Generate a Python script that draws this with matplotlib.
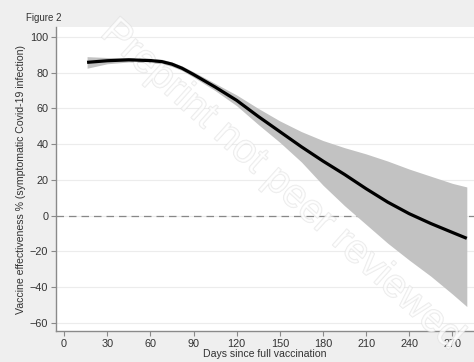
import matplotlib.pyplot as plt
import matplotlib.patheffects as pe

# values
days = [16, 30, 45, 60, 68, 75, 82, 90, 105, 120, 135, 150, 165, 180, 195, 210, 225, 240, 255, 270, 280]
ve = [85.8, 86.7, 87.2, 86.8, 86.2, 84.8, 82.5, 79.0, 72.0, 64.5, 55.5, 47.0, 38.5, 30.5, 23.0, 15.0, 7.5, 1.0, -4.5, -9.5, -12.8]
ve_upper = [89.0, 88.5, 88.5, 88.0, 87.5, 86.0, 83.8, 80.5, 74.0, 67.5, 60.0, 53.0, 47.0, 42.0, 38.0, 34.5, 30.5, 26.0, 22.0, 18.0, 16.0]
ve_lower = [82.5, 85.0, 86.0, 85.5, 85.0, 83.5, 81.2, 77.5, 70.0, 61.5, 51.0, 41.0, 30.0, 17.0, 5.5, -5.0, -15.5, -25.0, -34.0, -44.0, -51.0]
xticks = [0, 30, 60, 90, 120, 150, 180, 210, 240, 270]
yticks = [-60, -40, -20, 0, 20, 40, 60, 80, 100]

plt.rcParams['font.family'] = ['Liberation Sans', 'DejaVu Sans']

fig = plt.figure(figsize=(4.74, 3.62), dpi=100, facecolor='#efefef')
ax = fig.add_axes([56 / 474, 31 / 362, 1 - 56 / 474, 304 / 362])
ax.set_facecolor('white')

ax.fill_between(days, ve_lower, ve_upper, color='#c2c2c2', lw=0, zorder=2)
ax.plot(days, ve, color='black', lw=2.3, zorder=4, solid_capstyle='butt')
ax.axhline(0, color='#888888', lw=0.9, ls=(0, (6, 4)), zorder=1)

ax.set_xlim(-5.6, 285)
ax.set_ylim(-64.7, 105.6)
ax.set_xticks(xticks)
ax.set_yticks(yticks)
ax.grid(axis='y', color='#ececec', lw=0.8, zorder=0)
ax.set_axisbelow(True)
for s in ['top', 'right']:
    ax.spines[s].set_visible(False)
for s in ['left', 'bottom']:
    ax.spines[s].set_color('#8a8a8a')
    ax.spines[s].set_linewidth(1.0)
ax.tick_params(colors='#8a8a8a', labelcolor='#333333', labelsize=7.8, length=3.5, width=0.8, pad=2)

ax.set_xlabel('Days since full vaccination', fontsize=7.6, color='#333333', labelpad=0)
ax.set_ylabel('Vaccine effectiveness % (symptomatic Covid-19 infection)', fontsize=7.6,
              color='#333333', labelpad=3)

fig.text(26 / 474, 1 - 18 / 362, 'Figure 2', fontsize=7, color='#333333', va='center')

# watermark, kept under the fitted line
ax.text(0.595, 0.49, 'Preprint not peer reviewed', transform=fig.transFigure,
        fontsize=29, rotation=-42, ha='center', va='center', color='white',
        alpha=0.55, zorder=3, clip_on=False,
        path_effects=[pe.withStroke(linewidth=1.0, foreground='#dadada')])

fig.savefig('out.png', dpi=100, facecolor=fig.get_facecolor())
